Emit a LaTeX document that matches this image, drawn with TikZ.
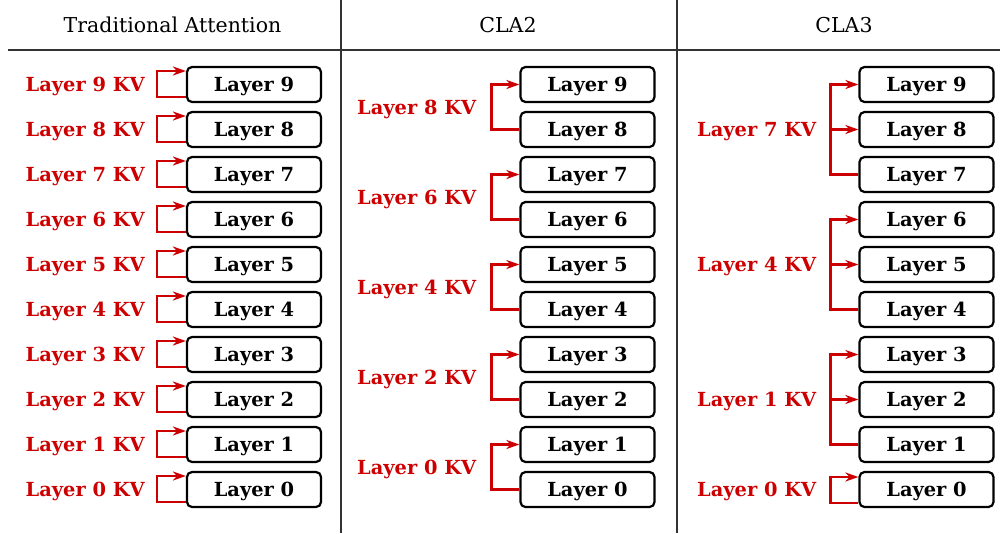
\documentclass[tikz,border=0pt]{standalone}
\usepackage{fontspec}
\setmainfont{DejaVu Serif}
\usetikzlibrary{arrows.meta,calc}
\definecolor{kvred}{HTML}{CC0000}
\definecolor{sepgray}{HTML}{333333}
\begin{document}
\begin{tikzpicture}[x=1pt,y=-1pt,
  layerbox/.style={draw=black,line width=2.2pt,rounded corners=5pt,minimum width=134pt,minimum height=35pt,inner sep=0pt,text height=14pt,text depth=0pt,font=\fontsize{19.4}{22}\selectfont\bfseries},
  kvlabel/.style={text=kvred,anchor=east,inner sep=0pt,text height=14pt,text depth=0pt,font=\fontsize{19.4}{22}\selectfont\bfseries},
  header/.style={inner sep=0pt,text height=14pt,text depth=0pt,font=\fontsize{20.5}{24}\selectfont},
  kvline/.style={draw=kvred,line width=2.2pt},
  kvarrow/.style={kvline,-{Stealth[length=13pt,width=9pt,inset=4pt]}},
  sep/.style={draw=sepgray,line width=1.2pt}]
\useasboundingbox (0,0) rectangle (1000,533);
% separators
\draw[sep] (341,0) -- (341,533);
\draw[sep] (677,0) -- (677,533);
\draw[sep] (8,50) -- (1000,50);
% headers
\node[header] (h1) at (172.5,25) {Traditional Attention};
\node[header] (h2) at (508,25) {CLA2};
\node[header] (h3) at (844,25) {CLA3};
% boxes
\foreach \i in {0,...,9}{
  \node[layerbox] (c1l\i) at (254,{489.5-45*\i}) {Layer \i};
  \node[layerbox] (c2l\i) at (587.5,{489.5-45*\i}) {Layer \i};
  \node[layerbox] (c3l\i) at (926.5,{489.5-45*\i}) {Layer \i};
}
% column 1: each layer has its own KV
\foreach \i in {0,...,9}{
  \node[kvlabel] (c1k\i) at ([xshift=-41pt]c1l\i.west) {Layer \i{} KV};
  \draw[kvarrow] ([yshift=-12.5pt]c1l\i.west) -- ++(-29,0) |- ([yshift=13.5pt]c1l\i.west);
}
% column 2: pairs
\foreach \i/\j in {0/1,2/3,4/5,6/7,8/9}{
  \node[kvlabel] (c2k\i) at ($(c2l\i.west)!0.5!(c2l\j.west)+(-43,0)$) {Layer \i{} KV};
  \draw[kvarrow] (c2l\i.west) -- ++(-28,0) |- (c2l\j.west);
}
% column 3: triples
\foreach \a/\b/\c in {1/2/3,4/5/6,7/8/9}{
  \node[kvlabel] (c3k\a) at ([xshift=-42pt]c3l\b.west) {Layer \a{} KV};
  \coordinate (j\a) at ([xshift=-28pt]c3l\a.west);
  \draw[kvarrow] (c3l\a.west) -- (j\a) |- (c3l\c.west);
  \draw[kvarrow] (j\a |- c3l\b.west) -- (c3l\b.west);
}
\node[kvlabel] (c3k0) at ([xshift=-42pt]c3l0.west) {Layer 0 KV};
\draw[kvarrow] ([yshift=-13.5pt]c3l0.west) -- ++(-28,0) |- ([yshift=12.5pt]c3l0.west);
\end{tikzpicture}
\end{document}
